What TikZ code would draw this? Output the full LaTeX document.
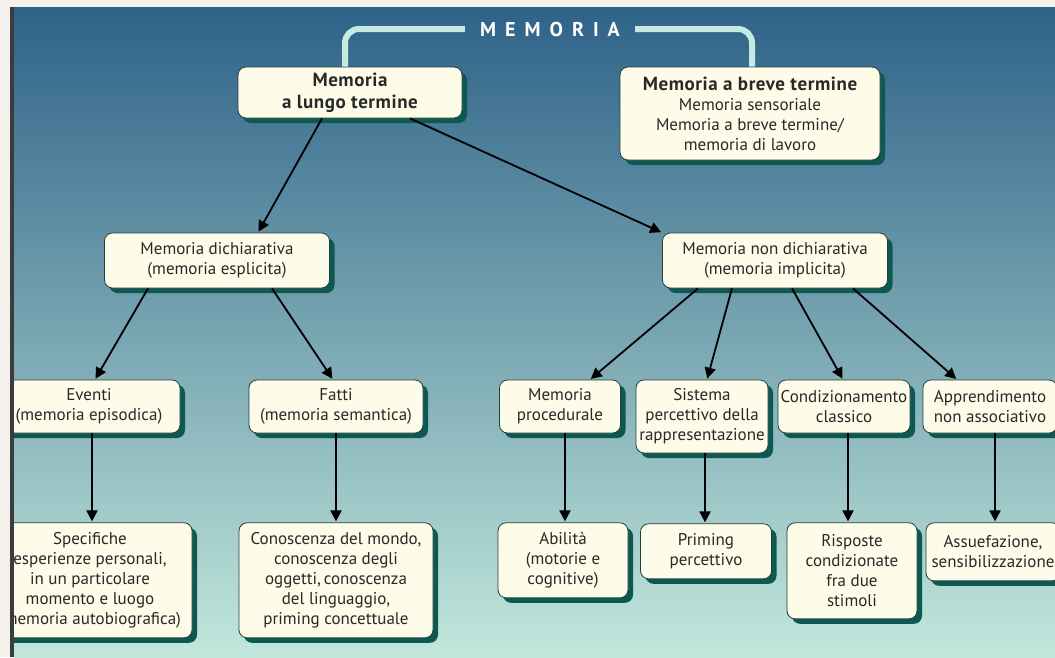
\documentclass[tikz,border=0pt]{standalone}
\usepackage{fontspec}
\setmainfont{PT Sans}
\newfontfamily\titlefont[LetterSpace=45]{PT Sans}
\newfontfamily\headfont[LetterSpace=3]{PT Sans}
\usetikzlibrary{positioning, arrows.meta, shadows}

\definecolor{paper}{RGB}{244,240,235}
\definecolor{frameline}{RGB}{60,60,62}
\definecolor{bgtop}{RGB}{46,98,136}
\definecolor{bgmid}{RGB}{105,155,172}
\definecolor{bgbot}{RGB}{194,232,220}
\definecolor{boxfill}{RGB}{253,252,232}
\definecolor{boxshadow}{RGB}{14,88,82}
\definecolor{boxline}{RGB}{35,60,62}
\definecolor{bracketcol}{RGB}{196,234,226}
\definecolor{textcol}{RGB}{40,40,40}

\begin{document}
\begin{tikzpicture}[
    x=1pt, y=-1pt,
    box/.style={
        rectangle,
        rounded corners=8pt,
        draw=boxline,
        line width=0.8pt,
        fill=boxfill,
        text=textcol,
        align=center,
        inner sep=2pt,
        font=\fontsize{17}{20}\selectfont,
        drop shadow={shadow xshift=5pt, shadow yshift=-5pt, fill=boxshadow, opacity=1}
    },
    headbox/.style={
        box,
        font=\headfont\bfseries\fontsize{19}{22}\selectfont
    },
    arr/.style={
        -{Triangle[length=11pt, width=11pt]},
        line width=1.8pt,
        black,
        shorten >=1pt
    },
    bracket/.style={
        line width=6pt,
        color=bracketcol,
        rounded corners=14pt
    }
]
    \useasboundingbox (0,0) rectangle (1055,657);

    % -- Frame and background --
    \fill[paper] (0,0) rectangle (1055,657);
    \shade[top color=bgtop, middle color=bgmid, bottom color=bgbot] (14,7) rectangle (1055,657);

    \begin{scope}
    \clip (14,7) rectangle (1055,657);

    % -- Title --
    \node[text=white, font=\titlefont\bfseries\fontsize{20}{20}\selectfont, inner xsep=15pt] (title) at (550,29) {MEMORIA};

    % -- Level 1 --
    \node[headbox, minimum width=224pt, minimum height=51pt] (lungo) at (350,92.5) {Memoria\\a lungo termine};
    \node[box, minimum width=260pt, minimum height=93pt] (breve) at (750,113.5)
        {{\headfont\bfseries\fontsize{19}{22}\selectfont Memoria a breve termine}\\Memoria sensoriale\\Memoria a breve termine/\\memoria di lavoro};

    \draw[bracket] ([xshift=-5pt]lungo.north) |- (title.west);
    \draw[bracket] (title.east) -| ([xshift=2pt]breve.north);

    % -- Level 2 --
    \node[box, minimum width=225pt, minimum height=55pt] (dich) at (217,260.5) {Memoria dichiarativa\\(memoria esplicita)};
    \node[box, minimum width=225pt, minimum height=55pt] (nondich) at (775,260.5) {Memoria non dichiarativa\\(memoria implicita)};

    % -- Level 3 --
    \node[box, minimum width=182pt, minimum height=53pt] (eventi) at (89,406.5) {Eventi\\(memoria episodica)};
    \node[box, minimum width=174pt, minimum height=53pt] (fatti) at (336,406.5) {Fatti\\(memoria semantica)};
    \node[box, minimum width=121pt, minimum height=53pt] (proc) at (560,406.5) {Memoria\\procedurale};
    \node[box, minimum width=132pt, minimum height=73pt] (sist) at (702,416.5) {Sistema\\percettivo della\\rappresentazione};
    \node[box, minimum width=132pt, minimum height=53pt] (cond) at (844,406.5) {Condizionamento\\classico};
    \node[box, minimum width=134pt, minimum height=53pt] (appr) at (990,406.5) {Apprendimento\\non associativo};

    % -- Level 4 --
    \node[box, minimum width=204pt, minimum height=115pt, below=89pt of eventi, xshift=1pt] (spec)
        {Specifiche\\esperienze personali,\\in un particolare\\momento e luogo\\(memoria autobiografica)};
    \node[box, minimum width=194pt, minimum height=115pt, below=89pt of fatti] (cono)
        {Conoscenza del mondo,\\conoscenza degli\\oggetti,\,conoscenza\\del linguaggio,\\priming concettuale};
    \node[box, minimum width=130pt, minimum height=75pt, below=89pt of proc, xshift=3pt] (abil) {Abilità\\(motorie e\\cognitive)};
    \node[box, minimum width=131pt, minimum height=55pt, below=70pt of sist, xshift=4pt] (prim) {Priming\\percettivo};
    \node[box, minimum width=130pt, minimum height=96pt, below=89pt of cond, xshift=8pt] (risp) {Risposte\\condizionate\\fra due\\stimoli};
    \node[box, minimum width=134pt, minimum height=58pt, below=89pt of appr, xshift=3pt] (assu) {Assuefazione,\\sensibilizzazione};

    % Arrows from the top
    \draw[arr] ([xshift=-28pt]lungo.south) -- ([xshift=41pt]dich.north);
    \draw[arr] ([xshift=60pt]lungo.south) -- (nondich.north west);

    % Arrows to level 3
    \draw[arr] ([xshift=-69pt]dich.south) -- ([xshift=6pt]eventi.north);
    \draw[arr] ([xshift=55pt]dich.south) -- ([xshift=-3pt]fatti.north);
    \draw[arr] ([xshift=-77pt]nondich.south) -- ([xshift=30pt]proc.north);
    \draw[arr] ([xshift=-43pt]nondich.south) -- ([xshift=5pt]sist.north);
    \draw[arr] ([xshift=17pt]nondich.south) -- ([xshift=-1pt]cond.north);
    \draw[arr] ([xshift=78pt]nondich.south) -- ([xshift=-33pt]appr.north);

    % Arrows to level 4
    \draw[arr] ([xshift=3pt]eventi.south) -- ([xshift=2pt]spec.north);
    \draw[arr] (fatti.south) -- (cono.north);
    \draw[arr] ([xshift=5pt]proc.south) -- ([xshift=2pt]abil.north);
    \draw[arr] ([xshift=3pt]sist.south) -- ([xshift=-1pt]prim.north);
    \draw[arr] ([xshift=4pt]cond.south) -- ([xshift=-4pt]risp.north);
    \draw[arr] ([xshift=5pt]appr.south) -- ([xshift=2pt]assu.north);
    \end{scope}

    \fill[frameline] (10,7) rectangle (14,657);
\end{tikzpicture}
\end{document}
